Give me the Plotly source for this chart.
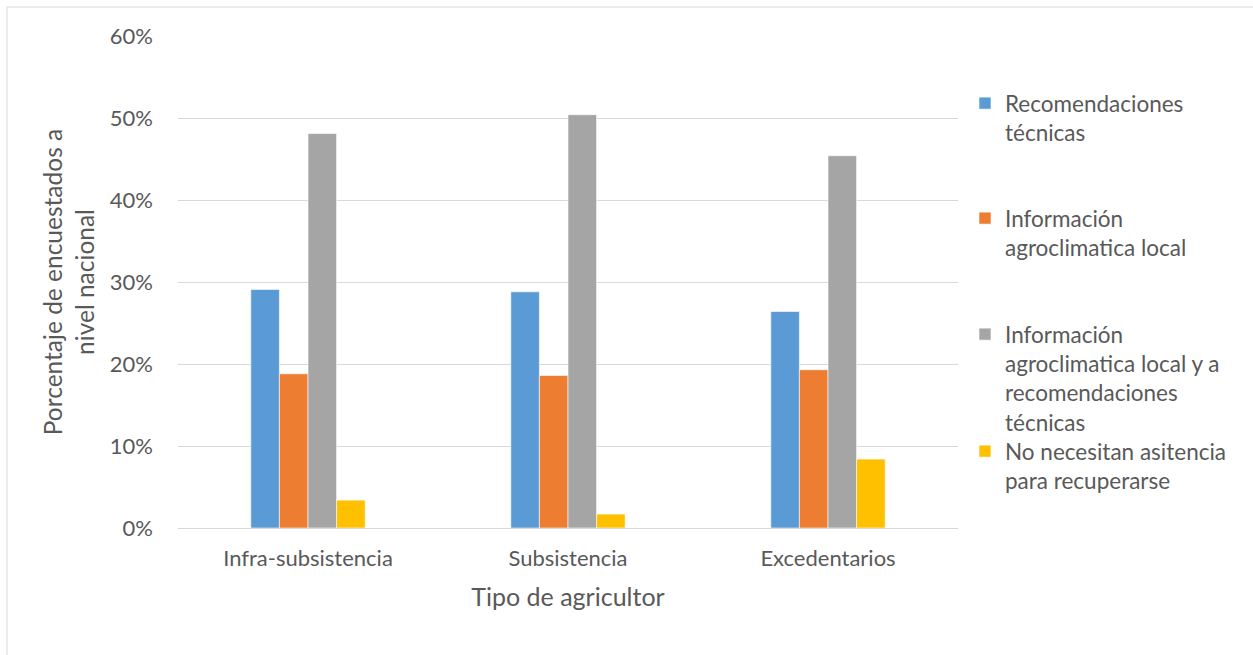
import plotly.graph_objects as go

categories = ["Infra-subsistencia", "Subsistencia", "Excedentarios"]
series_names = [
    "Recomendaciones<br>técnicas",
    "Información<br>agroclimatica local",
    "Información<br>agroclimatica local y a<br>recomendaciones<br>técnicas",
    "No necesitan asitencia<br>para recuperarse",
]
recomendaciones = [0.291, 0.288, 0.264]
info_local = [0.188, 0.186, 0.193]
info_local_recom = [0.481, 0.504, 0.454]
no_necesitan = [0.034, 0.017, 0.084]
colors = ["#5B9BD5", "#ED7D31", "#A5A5A5", "#FFC000"]

W, H = 1253, 655
L, R, T, B = 178, 295, 36, 127
FONT = "Lato"
TXT = "#595959"

series = [recomendaciones, info_local, info_local_recom, no_necesitan]
legend_ids = ["legend", "legend2", "legend3", "legend4"]
legend_top_px = [82, 197, 313, 430]

fig = go.Figure()
for name, vals, col, lid in zip(series_names, series, colors, legend_ids):
    fig.add_trace(go.Bar(
        x=categories, y=vals, name=name, legend=lid,
        marker=dict(color=col, line=dict(color="white", width=0.6)),
    ))

legend_common = dict(
    xref="container", yref="container", x=965 / W, xanchor="left", yanchor="top",
    font=dict(family=FONT, size=22.5, color=TXT), valign="top",
    bgcolor="rgba(0,0,0,0)", borderwidth=0,
)
layout_legends = {}
for lid, ytop in zip(legend_ids, legend_top_px):
    layout_legends[lid] = dict(legend_common, y=1 - ytop / H)

fig.update_layout(
    width=W, height=H,
    margin=dict(l=L, r=R, t=T, b=B, autoexpand=False),
    paper_bgcolor="white", plot_bgcolor="white",
    barmode="group", bargap=0.56, bargroupgap=0,
    font=dict(family=FONT, color=TXT),
    showlegend=True,
    **layout_legends,
)
fig.update_yaxes(
    range=[0, 0.6], dtick=0.1, tickformat=".0%",
    showgrid=True, gridcolor="#D9D9D9", gridwidth=1,
    zeroline=False, showline=False,
    tickfont=dict(family=FONT, size=22, color=TXT),
    ticklabelstandoff=24,
    title=dict(text="Porcentaje de encuestados a<br>nivel nacional",
               font=dict(family=FONT, size=24.5, color=TXT), standoff=8),
    automargin=False,
)
fig.update_xaxes(
    showgrid=False, showline=True, linecolor="#D9D9D9", linewidth=1,
    ticks="", tickfont=dict(family=FONT, size=22, color=TXT),
    ticklabelstandoff=11,
    title=dict(text="Tipo de agricultor", font=dict(family=FONT, size=25, color=TXT), standoff=18),
    automargin=False,
)
# chart-area border
fig.add_shape(type="rect", xref="paper", yref="paper",
              x0=(7 - L) / (W - L - R), x1=1.6,
              y0=-0.6, y1=(H - B - 7) / (H - T - B),
              line=dict(color="#D9D9D9", width=1), fillcolor="rgba(0,0,0,0)", layer="below")

fig.write_html("out.html")
